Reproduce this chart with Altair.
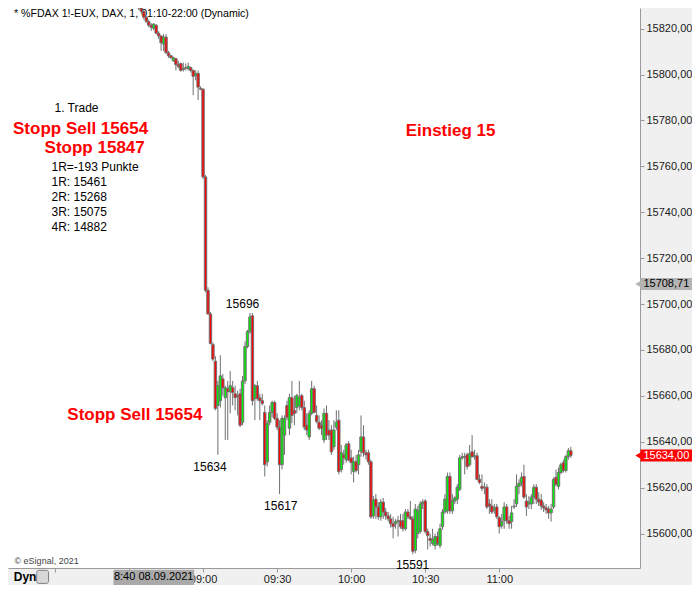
import altair as alt
import pandas as pd

FONT = "Liberation Sans"
START_MIN = 8 * 60 + 32  # first 1-minute candle at 08:32

opens = [
    15832, 15830.5, 15829.5, 15829, 15827.5, 15825, 15823, 15821.5, 15820.2, 15821.5,
    15818, 15816.8, 15813.3, 15816.3, 15809.5, 15808.2, 15806, 15806.9, 15804.3, 15804.8,
    15802.2, 15803, 15802.6, 15803, 15801.8, 15799.6, 15800.5, 15794,
    15793.6, 15755.4, 15706, 15695.7, 15682.4, 15675.1, 15655.8, 15657.9, 15667.4, 15659.2,
    15663.1, 15661.8, 15663.5, 15660.9, 15660.1, 15660.9, 15648.5, 15666.5, 15681.5, 15688,
    15694.9, 15658.8, 15664.4, 15659.2, 15657.9, 15652.8, 15631.3, 15648.5, 15652.8, 15657.1,
    15650.2, 15646.4, 15630, 15642.9, 15655.8, 15645.9, 15659.2, 15653.7, 15654.9, 15655.8,
    15660.1, 15654.9, 15647.2, 15642.1, 15652.4, 15663.1, 15651.5, 15648.5, 15647.2, 15640.8,
    15652.4, 15645.1, 15645.1, 15637.8, 15646.4, 15649.4, 15627.9, 15634.3, 15632.2, 15639.1,
    15633, 15627, 15631.3, 15630, 15635.6, 15642.1, 15635.2, 15635.2, 15631.3, 15607.7,
    15615, 15611.6, 15607.3, 15613.7, 15609.4, 15607.7, 15606.4, 15604.3, 15604.3, 15605.2,
    15605.6, 15605.6, 15602.1, 15609.4, 15607.3, 15606.4, 15592.7, 15600, 15600.9, 15612.9,
    15614.2, 15600.9, 15597.9, 15595.7, 15594.8, 15598.7, 15594.8, 15603, 15609.4, 15609.9,
    15624.9, 15609.9, 15614.2, 15615, 15619.3, 15633, 15633.5, 15634.3, 15630, 15635.6,
    15633.5, 15633.9, 15623.6, 15620.6, 15620.2, 15620.2, 15612.9, 15612, 15610.3, 15611.6,
    15606.9, 15603.4, 15605.6, 15611.6, 15605.6, 15605.2, 15611.6, 15612.9, 15620.6, 15621.9,
    15624.9, 15614.2, 15612.9, 15612.9, 15615.9, 15620.2, 15615, 15614.6, 15612, 15611.2,
    15610.7, 15609, 15611.6, 15624.5, 15620.6, 15626.6, 15630.9, 15627.5, 15633.5, 15636.1,
]
highs = [
    15833, 15831.5, 15830.5, 15830, 15828, 15825.5, 15824, 15822.4, 15822.4, 15822,
    15818.9, 15817.2, 15817.6, 15817.6, 15810.3, 15808.6, 15807.8, 15807.3, 15806, 15805.2,
    15805.2, 15804.8, 15805.2, 15803.5, 15802.2, 15801.8, 15801.8, 15794.9,
    15794, 15756.2, 15707.3, 15696.6, 15683.3, 15677.3, 15666.5, 15677.7, 15669.5, 15664.4,
    15666.5, 15670.8, 15666.5, 15664.4, 15662.2, 15663.1, 15668.7, 15683.7, 15688.8, 15696.1,
    15696.1, 15665.2, 15666.5, 15660.9, 15660.9, 15655.8, 15649.4, 15655.8, 15657.9, 15657.9,
    15652.4, 15649.4, 15651.5, 15651.5, 15657.9, 15660.9, 15666.5, 15660.1, 15660.9, 15666.5,
    15660.9, 15657.9, 15652.4, 15653.7, 15666.5, 15664.4, 15655.8, 15651.5, 15649.4, 15654.5,
    15655.8, 15649.4, 15647.2, 15649.4, 15653.7, 15653.7, 15638.6, 15636.5, 15639.5, 15640.3,
    15636.5, 15633.5, 15634.3, 15636.5, 15651.5, 15647.2, 15636.5, 15636.5, 15632.2, 15616.3,
    15617.2, 15613.7, 15615, 15615.5, 15611.2, 15609.4, 15608.6, 15607.3, 15606.4, 15607.7,
    15608.6, 15608.6, 15610.7, 15610.7, 15614.2, 15607.7, 15612.9, 15612, 15614.2, 15615,
    15615, 15602.1, 15600, 15602.1, 15600, 15600.9, 15604.3, 15610.7, 15617.2, 15626.6,
    15626.6, 15617.2, 15616.3, 15621.5, 15634.3, 15635.2, 15635.2, 15635.2, 15638.6, 15642.9,
    15636.5, 15635.2, 15625.8, 15625.8, 15622.3, 15621.5, 15615, 15615, 15612.9, 15612.9,
    15607.7, 15608.6, 15613.7, 15612.9, 15607.7, 15612, 15615, 15625.8, 15623.6, 15626.6,
    15630, 15617.2, 15616.3, 15617.2, 15621.5, 15621.5, 15618, 15617.2, 15613.7, 15612.9,
    15612, 15612.9, 15624.5, 15627.9, 15628.8, 15630.9, 15632.2, 15634.3, 15637.3, 15637.8,
]
lows = [
    15829.5, 15829, 15828, 15826.6, 15824, 15822.5, 15820.6, 15819, 15819.4, 15817.6,
    15815.5, 15810.3, 15810.3, 15809, 15807.3, 15806.9, 15805.6, 15801.8, 15802.6, 15801.3,
    15801.3, 15801.8, 15801.8, 15800.9, 15791, 15797.5, 15788.9, 15793.2,
    15754.5, 15705.2, 15695.3, 15682.4, 15675.1, 15653.7, 15634.3, 15654.9, 15660.1, 15640.8,
    15640.8, 15652.4, 15655.8, 15653.7, 15651.5, 15646.4, 15647.2, 15665.2, 15680.7, 15687.1,
    15655.8, 15649.4, 15657.9, 15649.4, 15655.8, 15624.9, 15629.2, 15647.2, 15650.6, 15649.4,
    15645.1, 15617.2, 15627.9, 15634.3, 15649.4, 15642.9, 15648.1, 15647.2, 15652.4, 15653.7,
    15653.7, 15645.1, 15642.9, 15640.8, 15651.5, 15652.4, 15648.1, 15645.1, 15642.9, 15639.5,
    15640.8, 15640.8, 15634.3, 15636.5, 15645.1, 15625.8, 15626.6, 15630, 15630.9, 15631.5,
    15625.8, 15622.3, 15626.6, 15625.8, 15633.5, 15633.5, 15632.2, 15630, 15606.4, 15606.4,
    15606.4, 15606, 15605.6, 15606.4, 15606, 15605.2, 15602.6, 15597.9, 15602.1, 15598.7,
    15602.1, 15600.9, 15601.3, 15606.4, 15606, 15591, 15591.4, 15597.9, 15600, 15610.7,
    15600, 15593.1, 15594.4, 15594.8, 15593.1, 15594.8, 15593.6, 15601.7, 15608.6, 15608.6,
    15608.6, 15608.6, 15612.9, 15612.9, 15618.5, 15632.2, 15625.8, 15627.9, 15629.2, 15633,
    15632.2, 15623.2, 15621.5, 15618.5, 15617.2, 15610.7, 15608.6, 15608.6, 15608.6, 15606.4,
    15600, 15602.1, 15602.1, 15604.3, 15602.1, 15602.1, 15610.7, 15611.6, 15617.2, 15620.6,
    15615, 15607.7, 15610.7, 15610.7, 15612.9, 15612.9, 15612, 15610.3, 15609.4, 15608.6,
    15606.4, 15605.2, 15610.7, 15620.6, 15619.3, 15625.8, 15626.6, 15626.6, 15632.2, 15633,
]
closes = [
    15830.5, 15829.5, 15829, 15827.5, 15825, 15823.2, 15821.5, 15820.6, 15822, 15818,
    15816.8, 15813.8, 15816.3, 15809.5, 15808.2, 15807.3, 15807.3, 15804.3, 15803.5, 15801.8,
    15802.6, 15802.8, 15803.5, 15801.8, 15799.2, 15800.5, 15794.5, 15793.6,
    15755.4, 15706, 15695.7, 15682.8, 15676, 15654.5, 15664.4, 15668.7, 15663.5, 15663.5,
    15661.8, 15664.4, 15661.4, 15659.2, 15659.7, 15647.2, 15666.5, 15681.5, 15688, 15694.4,
    15657.9, 15664.4, 15658.8, 15657.9, 15656.7, 15630, 15648.1, 15652.8, 15657.1, 15650.2,
    15646.4, 15630, 15650.2, 15650.2, 15650.6, 15659.2, 15651.5, 15652.4, 15660.1, 15659.2,
    15654.9, 15646.4, 15645.1, 15652.4, 15663.1, 15652.8, 15648.9, 15645.9, 15645.9, 15652.4,
    15642.9, 15642.9, 15635.6, 15645.1, 15648.5, 15627, 15635.2, 15633, 15638.6, 15632,
    15630.9, 15631.3, 15627.5, 15634.3, 15642.1, 15635.2, 15634.3, 15631.3, 15607.3, 15614.6,
    15611.6, 15607.3, 15613.7, 15609.4, 15607.7, 15606.4, 15604.3, 15603, 15605.2, 15605.6,
    15603, 15602.1, 15609.4, 15607.3, 15606.4, 15592.3, 15610.7, 15609.9, 15612.9, 15613.7,
    15600.9, 15599.1, 15597, 15597.4, 15598.7, 15595.7, 15602.1, 15609.4, 15615, 15624.9,
    15609.9, 15614.2, 15615.5, 15620.2, 15633, 15633.5, 15633.2, 15629.2, 15634.8, 15633.5,
    15633.9, 15623.6, 15622.3, 15619.7, 15620, 15611.6, 15612, 15609.4, 15611.2, 15607.3,
    15603, 15605.2, 15611.6, 15605.6, 15604.3, 15609, 15612, 15620.6, 15621.9, 15624.5,
    15615.9, 15611.6, 15613.7, 15615.9, 15620.2, 15615, 15613.7, 15612, 15611.2, 15610.3,
    15609, 15610.7, 15623.6, 15621.5, 15626.6, 15630, 15627.5, 15633.5, 15636.1, 15634,
]

# axis ticks
x_ticks = [480, 510, 540, 570, 600, 630, 660]          # minutes after midnight
y_ticks = [15600, 15620, 15640, 15660, 15680, 15700, 15720, 15740, 15760, 15780, 15800, 15820]

# annotations
header_text = "* %FDAX 1!-EUX, DAX, 1, 01:10-22:00 (Dynamic)"
trade_labels = ["1. Trade", "1R=-193 Punkte", "1R: 15461", "2R: 15268", "3R: 15075", "4R: 14882"]
trade_x = [479.8, 478.6, 478.6, 478.6, 478.6, 478.6]
trade_y = [15785.4, 15759.7, 15753.2, 15746.6, 15740.1, 15733.6]
red_labels = ["Stopp Sell 15654", "Stopp 15847", "Einstieg 15", "Stopp Sell 15654"]
red_x = [463.0, 475.8, 622.1, 485.0]
red_y = [15776.3, 15768.0, 15775.4, 15651.7]
high_labels = ["15696"]
high_x = [556.0]
high_y = [15696.0]
low_labels = ["15634", "15617", "15591"]
low_x = [542.8, 571.5, 624.9]
low_y = [15634.0, 15617.0, 15591.0]
flag_values = [15708.71, 15634.0]
flag_labels = ["15708,71", "15634,00"]
flag_fill = ["#b4b4b4", "#ff0000"]
flag_text_color = ["#000000", "#ffffff"]

# ---------------------------------------------------------------------------
n = len(opens)
minutes = list(range(START_MIN, START_MIN + n))
candles = pd.DataFrame({"t": minutes, "open": opens, "high": highs, "low": lows, "close": closes})
candles["dir"] = ["up" if c >= o else "down" for o, c in zip(opens, closes)]

XS = alt.Scale(domain=[463, 715], nice=False, zero=False)
YS = alt.Scale(domain=[15585, 15829], nice=False, zero=False)
XA = alt.Axis(
    values=x_ticks,
    labelExpr="datum.value < 540 ? '' : (floor(datum.value/60) < 10 ? '0' : '') + floor(datum.value/60) + ':' + (datum.value % 60 < 10 ? '0' : '') + (datum.value % 60)",
    title=None, grid=False, labelOverlap=False, tickSize=4, labelPadding=1,
)
YA = alt.Axis(
    orient="right", values=y_ticks,
    labelExpr="replace(format(datum.value, '.2f'), '.', ',')",
    title=None, grid=False, labelOverlap=False, tickSize=4, labelPadding=2,
)


def X(f):
    return alt.X(f, type="quantitative", scale=XS, axis=XA)


def Y(f):
    return alt.Y(f, type="quantitative", scale=YS, axis=YA)


def text_layer(df, **kw):
    return alt.Chart(df).mark_text(font=FONT, baseline="middle", **kw).encode(
        x=X("x"), y=Y("y"), text="label:N"
    )


header = text_layer(pd.DataFrame({"x": [463.4], "y": [15826.6], "label": [header_text]}),
                    align="left", fontSize=10.6, color="#000000")
trade_txt = text_layer(pd.DataFrame({"x": trade_x, "y": trade_y, "label": trade_labels}),
                       align="left", fontSize=12, color="#000000")
red_txt = text_layer(pd.DataFrame({"x": red_x, "y": red_y, "label": red_labels}),
                     align="left", fontSize=17, fontWeight="bold", color="#ff0000")
copyright_txt = text_layer(pd.DataFrame({"x": [463.6], "y": [15588.0], "label": ["© eSignal, 2021"]}),
                           align="left", fontSize=9, color="#444444")

wicks = alt.Chart(candles).mark_rule(color="#707070", strokeWidth=1, clip=True).encode(
    x=X("t"), y=Y("low"), y2=alt.Y2("high")
)
bodies = alt.Chart(candles).mark_bar(size=2.4, stroke="#707070", strokeWidth=1, clip=True).encode(
    x=X("t"), y=Y("open"), y2=alt.Y2("close"),
    color=alt.Color("dir:N", scale=alt.Scale(domain=["up", "down"], range=["#00ee00", "#ff0000"]), legend=None),
)

hi_txt = text_layer(pd.DataFrame({"x": high_x, "y": high_y, "label": high_labels}),
                    align="center", fontSize=12, color="#000000", dy=-9)
lo_txt = text_layer(pd.DataFrame({"x": low_x, "y": low_y, "label": low_labels}),
                    align="center", fontSize=12, color="#000000", dy=11)

# crosshair date box on time axis
box_df = pd.DataFrame({"x": [503.7], "x2": [536.4], "y": [15584.2], "y2": [15577.6]})
box = alt.Chart(box_df).mark_rect(color="#a9a9a9").encode(
    x=X("x"), x2="x2", y=Y("y"), y2="y2"
)
box_txt = text_layer(pd.DataFrame({"x": [520.0], "y": [15580.9], "label": ["8:40 08.09.2021"]}),
                     align="center", fontSize=11, color="#000000")

dyn_txt = text_layer(pd.DataFrame({"x": [463.3], "y": [15581.1], "label": ["Dyn"]}),
                     align="left", fontSize=12, fontWeight="bold", color="#000000")
lock_df = pd.DataFrame({"x": [472.6], "x2": [477.4], "y": [15584.0], "y2": [15578.3]})
lock = alt.Chart(lock_df).mark_rect(fill="#d8d8d8", stroke="#808080", strokeWidth=1,
                                    cornerRadius=2).encode(x=X("x"), x2="x2", y=Y("y"), y2="y2")

# price flags on the right axis
flags = pd.DataFrame({
    "val": flag_values, "label": flag_labels, "fill": flag_fill, "tcol": flag_text_color,
})
flags["lo"] = [v - 2.6 for v in flag_values]
flags["hi"] = [v + 2.6 for v in flag_values]
flags["x1"] = 717.2
flags["x2"] = 745.0
flags["xt"] = 716.3
flags["xl"] = 718.4
flag_rect = alt.Chart(flags).mark_rect().encode(
    x=X("x1"), x2="x2", y=Y("lo"), y2="hi", color=alt.Color("fill:N", scale=None)
)
flag_tri = alt.Chart(flags).mark_point(shape="triangle-left", filled=True, size=45, opacity=1).encode(
    x=X("xt"), y=Y("val"), color=alt.Color("fill:N", scale=None)
)
flag_txt = alt.Chart(flags).mark_text(font=FONT, fontSize=11, align="left", baseline="middle").encode(
    x=X("xl"), y=Y("val"), text="label:N", color=alt.Color("tcol:N", scale=None)
)

chart = alt.layer(
    header, trade_txt, red_txt, copyright_txt,
    wicks, bodies, hi_txt, lo_txt,
    box, box_txt, dyn_txt, lock,
    flag_rect, flag_tri, flag_txt,
).properties(
    width=632, height=560,
    padding={"left": 0, "top": 0, "right": 52, "bottom": 17},
    autosize=alt.AutoSizeParams(type="none"),
    background="#f0f0f0",
).configure_view(
    fill="white", strokeWidth=0
).configure_axis(
    domainColor="#9a9a9a", tickColor="#9a9a9a", labelColor="#1a1a1a",
    labelFont=FONT, labelFontSize=11, grid=False,
)

chart.save("out.html", embed_options={"renderer": "svg", "actions": False})
